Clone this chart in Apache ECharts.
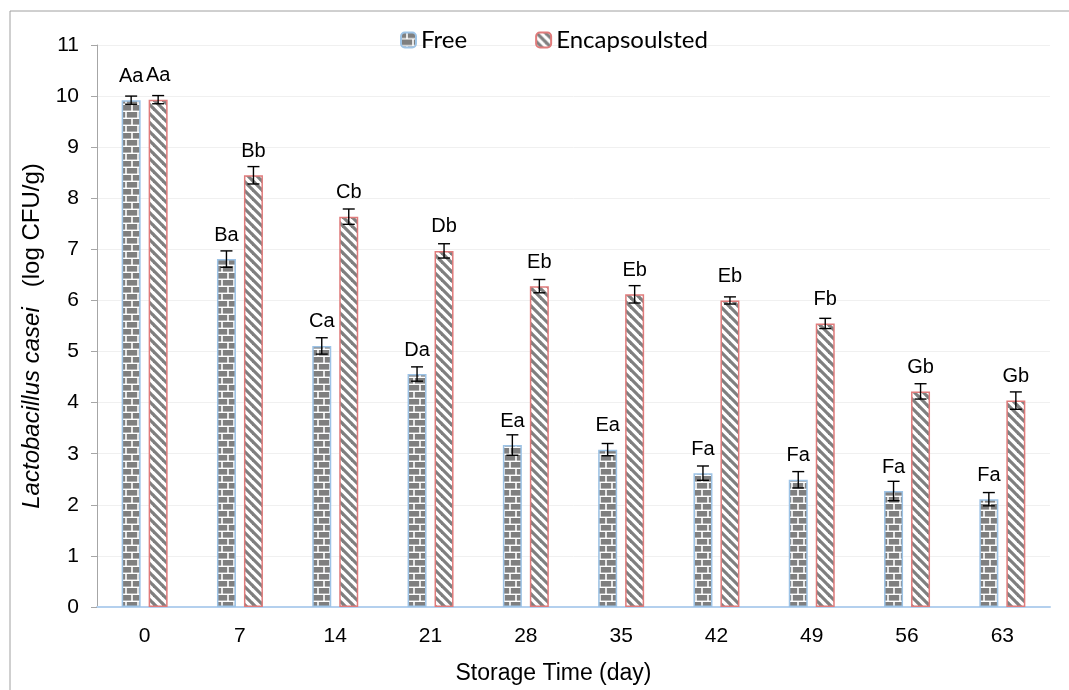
<!DOCTYPE html>
<html>
<head>
<meta charset="utf-8">
<script src="https://cdn.jsdelivr.net/npm/echarts@6/dist/echarts.min.js"></script>
<style>
html,body{margin:0;padding:0;background:#fff;}
#c{width:1069px;height:690px;}
</style>
</head>
<body>
<div id="c"></div>
<script>
const days = ['0','7','14','21','28','35','42','49','56','63'];
const freeValues = [9.92, 6.81, 5.11, 4.56, 3.17, 3.08, 2.62, 2.49, 2.27, 2.11];
const freeErrors = [0.08, 0.16, 0.16, 0.14, 0.20, 0.12, 0.14, 0.16, 0.19, 0.13];
const freeLetters = ['Aa','Ba','Ca','Da','Ea','Ea','Fa','Fa','Fa','Fa'];
const encValues = [9.93, 8.45, 7.64, 6.97, 6.28, 6.12, 6.00, 5.55, 4.22, 4.04];
const encErrors = [0.08, 0.17, 0.15, 0.14, 0.13, 0.17, 0.07, 0.10, 0.15, 0.17];
const encLetters = ['Aa','Bb','Cb','Db','Eb','Eb','Eb','Fb','Gb','Gb'];
const yTicks = [0,1,2,3,4,5,6,7,8,9,10,11];

function brickPattern(){
  const c = document.createElement('canvas');
  c.width = 12; c.height = 14;
  const g = c.getContext('2d');
  g.fillStyle = '#ffffff'; g.fillRect(0,0,12,14);
  g.fillStyle = '#7f7f7f';
  g.fillRect(0,0,5.2,5.6); g.fillRect(6.8,0,5.2,5.6);
  g.fillRect(0.8,7,10.4,5.6);
  return c;
}
function stripePattern(){
  const s = 9;
  const c = document.createElement('canvas');
  c.width = s; c.height = s;
  const g = c.getContext('2d');
  g.fillStyle = '#ffffff'; g.fillRect(0,0,s,s);
  g.strokeStyle = '#7f7f7f'; g.lineWidth = 3.2;
  [-s,0,s].forEach(x0=>{ g.beginPath(); g.moveTo(x0-1,-1); g.lineTo(x0+s+1,s+1); g.stroke(); });
  return c;
}

const chart = echarts.init(document.getElementById('c'), null, {renderer:'canvas'});
const FONT = 'Liberation Sans';
const OFFSET_FRAC = 13.5/95.3;

function errSeries(name, values, errors, sign){
  return {
    type:'custom',
    name: name + ' err',
    z: 10,
    silent: true,
    data: values.map((v,i)=>[i, v, errors[i]]),
    encode:{x:0, y:1},
    renderItem:(params, api)=>{
      const i = api.value(0), v = api.value(1), e = api.value(2);
      const bw = api.size([1,0])[0];
      const xc = api.coord([i, v])[0] + sign*bw*OFFSET_FRAC;
      const yHi = api.coord([i, v+e])[1];
      const yLo = api.coord([i, v-e])[1];
      const cap = 6;
      const st = {stroke:'#000', lineWidth:1.4};
      return {type:'group', children:[
        {type:'line', shape:{x1:xc, y1:yHi, x2:xc, y2:yLo}, style:st},
        {type:'line', shape:{x1:xc-cap, y1:yHi, x2:xc+cap, y2:yHi}, style:st},
        {type:'line', shape:{x1:xc-cap, y1:yLo, x2:xc+cap, y2:yLo}, style:st}
      ]};
    }
  };
}

const option = {
  animation:false,
  backgroundColor:'#fff',
  graphic:[{type:'rect', shape:{x:10, y:11, width:1100, height:720}, style:{fill:'none', stroke:'#a0a0a0', lineWidth:1}, silent:true, z:-10}],
  legend:{
    left:395, top:23,
    itemWidth:15, itemHeight:15, itemGap:68,
    textStyle:{fontFamily:'Lato', fontSize:24, color:'#000'},
    data:['Free','Encapsoulsted']
  },
  grid:{left:97, right:19, top:45, bottom:80},
  xAxis:{
    type:'category', data:days,
    axisLine:{lineStyle:{color:'#b4d0ee', width:2}},
    axisTick:{show:false},
    axisLabel:{fontFamily:FONT, fontSize:21, color:'#000', margin:19},
    name:'Storage Time (day)', nameLocation:'middle', nameGap:55,
    nameTextStyle:{fontFamily:FONT, fontSize:23, color:'#000', padding:[0,40,0,0]}
  },
  yAxis:{
    type:'value', min:0, max:11, interval:1,
    axisLine:{show:true, lineStyle:{color:'#a6a6a6', width:1}},
    axisTick:{show:true, length:6, lineStyle:{color:'#a6a6a6'}},
    axisLabel:{fontFamily:FONT, fontSize:21, color:'#000', margin:18, formatter:v=>yTicks.includes(v)?String(v):''},
    splitLine:{lineStyle:{color:'#f0f0f0', width:1}},
    name:'{i|Lactobacillus casei}   (log CFU/g)', nameLocation:'middle', nameGap:47,
    nameTextStyle:{fontFamily:FONT, fontSize:24, color:'#000', padding:[0,20,0,0],
      rich:{i:{fontFamily:FONT, fontSize:24, fontStyle:'italic', color:'#000'}}}
  },
  series:[
    {
      type:'bar', name:'Free', data:freeValues,
      barWidth:19, barGap:'42%',
      itemStyle:{color:{image:brickPattern(), repeat:'repeat'}, borderColor:'#9dc3e6', borderWidth:1.5},
      label:{show:true, position:'top', distance:14, fontFamily:FONT, fontSize:20, color:'#000',
        formatter:p=>freeLetters[p.dataIndex]}
    },
    {
      type:'bar', name:'Encapsoulsted', data:encValues,
      barWidth:19,
      itemStyle:{color:{image:stripePattern(), repeat:'repeat'}, borderColor:'#e07b7b', borderWidth:1.5},
      label:{show:true, position:'top', distance:14, fontFamily:FONT, fontSize:20, color:'#000',
        formatter:p=>encLetters[p.dataIndex]}
    },
    errSeries('Free', freeValues, freeErrors, -1),
    errSeries('Encapsoulsted', encValues, encErrors, 1)
  ]
};
chart.setOption(option);
</script>
</body>
</html>
